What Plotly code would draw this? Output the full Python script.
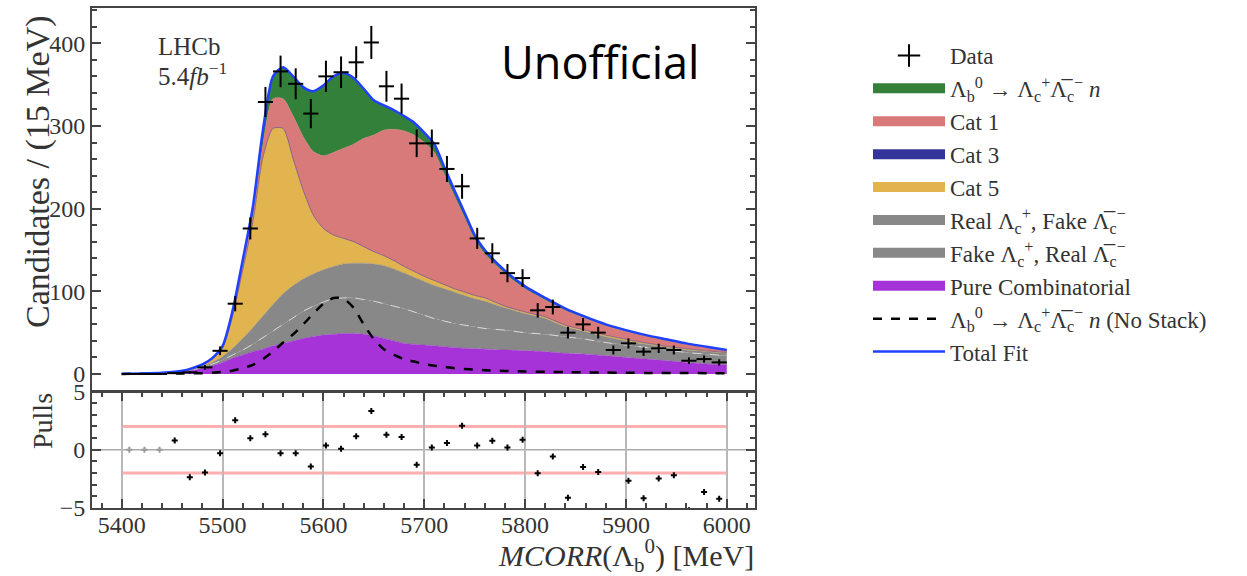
import numpy as np
import plotly.graph_objects as go

# ---------------- data ----------------
bin_centers = [5407.5, 5422.5, 5437.5, 5452.5, 5467.5, 5482.5, 5497.5, 5512.5, 5527.5, 5542.5,
               5557.5, 5572.5, 5587.5, 5602.5, 5617.5, 5632.5, 5647.5, 5662.5, 5677.5, 5692.5,
               5707.5, 5722.5, 5737.5, 5752.5, 5767.5, 5782.5, 5797.5, 5812.5, 5827.5, 5842.5,
               5857.5, 5872.5, 5887.5, 5902.5, 5917.5, 5932.5, 5947.5, 5962.5, 5977.5, 5992.5]
data_counts = [0, 0, 0, 1, 2, 8, 28, 85, 176, 329,
               366, 351, 315, 360, 365, 377, 401, 348, 333, 279,
               279, 248, 227, 164, 146, 122, 116, 77, 81, 50,
               60, 50, 29, 37, 27, 31, 29, 16, 18, 14]
pulls = [0, 0, 0, 0.8, -2.36, -1.95, -0.29, 2.53, 0.98, 1.32,
         -0.29, -0.29, -1.44, 0.37, 0.09, 1.15, 3.33, 1.29, 1.09, -1.29,
         0.2, 0.57, 2.07, 0.37, 0.78, 0.2, 0.86, -2.01, -0.57, -4.11,
         -1.49, -1.92, -5.3, -2.67, -4.17, -2.47, -2.18, -5.2, -3.62, -4.2]

x_fit = [5400, 5420, 5440, 5460, 5470, 5480, 5490, 5500, 5510, 5520, 5530, 5540, 5550, 5560,
         5570, 5580, 5590, 5600, 5610, 5620, 5630, 5640, 5650, 5660, 5670, 5680, 5690, 5700,
         5710, 5720, 5730, 5740, 5750, 5760, 5780, 5800, 5820, 5840, 5860, 5880, 5900, 5920,
         5940, 5960, 5980, 6000]
comb = [0.1, 0.3, 0.8, 2.5, 4.5, 7, 10, 14, 19, 23, 27, 30, 34, 37,
        40, 43, 45, 47, 48, 49, 49, 48, 46, 43, 40, 37, 36, 35,
        34, 33, 32, 31, 30.5, 30, 29, 28, 27, 25, 24, 22, 20, 18,
        16, 14, 12, 11]
fake_real = [0.05, 0.05, 0.1, 0.3, 0.5, 1, 2, 3, 4, 6, 9, 14, 18, 23,
             28, 33, 37, 40, 43, 43, 43, 42, 42, 42, 42, 42, 39, 36,
             33, 31, 29, 28, 26.5, 25, 24, 22, 21, 20, 18, 16, 15, 14,
             13, 12, 12, 11]
real_fake = [0.05, 0.05, 0.1, 0.2, 0.5, 1, 2, 4, 8, 14, 20, 26, 32, 37,
             39, 39, 39, 39, 39, 41, 42, 44, 45, 46, 45, 43, 42, 41,
             40, 39, 38, 36, 34, 33, 27, 23, 19, 12, 9, 7, 5, 4,
             3, 3, 3, 3]
cat5 = [0.05, 0.05, 0.1, 0.2, 0.5, 1.5, 4, 10, 39, 83, 128, 192, 213, 200,
        153, 107, 71, 50, 38, 31, 26, 20, 15, 12, 10, 8, 7, 6,
        6, 5, 4, 4, 4, 4, 2, 2, 2, 2, 2, 2, 2, 1.5,
        1.5, 1.5, 1, 1]
cat3 = [0, 0, 0, 0, 0, 0, 0, 0, 0, 0, 0, 0, 0, 0,
        0, 0, 0, 0, 0, 0, 0, 0, 0, 0, 0, 0, 0, 0,
        0, 0, 0, 0, 0, 0, 0, 0, 0, 0, 0, 0, 0, 0,
        0, 0, 0, 0]
cat1 = [0, 0, 0, 0, 0.2, 0, 0, 0.5, 3, 5, 7, 15, 36, 36,
        52, 65, 77, 88, 100, 109, 118, 131, 141, 152, 159, 164, 165, 162,
        155, 133.5, 112, 90, 67.8, 53.4, 39.3, 28, 20.4, 17.8, 14.1, 11.3, 9.5, 8.2,
        7.3, 5.4, 4, 2]
sig = [0.1, 0.2, 0.4, 0.6, 0.8, 1.0, 1.5, 2.5, 4, 7, 11, 18, 27, 38,
       48, 60, 73, 85, 92, 91, 80, 60, 42, 30, 23, 18, 15, 12,
       10, 8.5, 7, 6, 5.2, 4.6, 3.7, 3, 2.6, 2.2, 1.9, 1.7, 1.5, 1.3,
       1.2, 1.1, 1, 1]

# ---------------- geometry ----------------
W, H = 1247, 576
xl, xr = 92, 755
main_top, main_bot = 8, 391
pull_top, pull_bot = 391.5, 508
XR = [5370.5, 6028]

SERIF = "Liberation Serif"
TXT = "#333333"

LB = "Λ<sub>b</sub><sup>0</sup>"
LCP = "Λ<sub>c</sub><sup>+</sup>"
LCB = "Λ\u0305<sub>c</sub><sup>−</sup>"

fig = go.Figure()

comps = [
    (comb, "Pure Combinatorial", "#a633d8", 8),
    (fake_real, f"Fake {LCP}, Real {LCB}", "#888888", 7),
    (real_fake, f"Real {LCP}, Fake {LCB}", "#888888", 6),
    (cat5, "Cat 5", "#e1b44f", 5),
    (cat3, "Cat 3", "#333399", 4),
    (cat1, "Cat 1", "#d87a7a", 3),
    (sig, f"{LB} → {LCP}{LCB} <i>n</i>", "#33803a", 2),
]
for vals, name, col, rank in comps:
    if vals is fake_real:
        line = dict(color="rgba(225,225,225,0.9)", width=1, dash="dash", shape="spline", smoothing=0.7)
    else:
        line = dict(color=col, width=0.5, shape="spline", smoothing=0.7)
    fig.add_trace(go.Scatter(x=x_fit, y=vals, mode="lines", stackgroup="fit", name=name,
                             fillcolor=col, line=line, showlegend=False, legendgroup=name,
                             xaxis="x", yaxis="y"))
    # legend swatch for this component (no data of its own)
    fig.add_trace(go.Scatter(x=[None], y=[None], mode="lines", name=name, legendgroup=name,
                             line=dict(color=col, width=18), legendrank=rank,
                             xaxis="x", yaxis="y"))

total = np.sum(np.array([comb, fake_real, real_fake, cat5, cat3, cat1, sig]), axis=0)

fig.add_trace(go.Scatter(x=x_fit, y=sig, mode="lines", name=f"{LB} → {LCP}{LCB} <i>n</i> (No Stack)",
                         line=dict(color="black", width=2.5, dash="dash", shape="spline", smoothing=0.7),
                         legendrank=9, xaxis="x", yaxis="y"))
fig.add_trace(go.Scatter(x=x_fit, y=total, mode="lines", name="Total Fit",
                         line=dict(color="#2040ff", width=2.5, shape="spline", smoothing=0.7),
                         legendrank=10, xaxis="x", yaxis="y"))

errs = np.sqrt(np.array(data_counts, dtype=float))
fig.add_trace(go.Scatter(x=bin_centers, y=data_counts, mode="markers", showlegend=False,
                         marker=dict(size=1, color="black"),
                         error_y=dict(type="data", array=errs, color="black", thickness=2, width=0),
                         error_x=dict(type="constant", value=7.5, color="black", thickness=2, width=0),
                         xaxis="x", yaxis="y"))
fig.add_trace(go.Scatter(x=[None], y=[None], mode="markers", name="Data", legendrank=1,
                         marker=dict(symbol="cross-thin", size=24, line=dict(color="black", width=2)),
                         xaxis="x", yaxis="y"))

# pulls
pcol = ["#999999"] * 3 + ["black"] * (len(pulls) - 3)
fig.add_trace(go.Scatter(x=bin_centers, y=pulls, mode="markers", showlegend=False,
                         marker=dict(symbol="cross", size=5, color=pcol),
                         xaxis="x2", yaxis="y2"))

axis_common = dict(showline=True, linecolor="#444444", linewidth=2, mirror="ticks",
                   tickfont=dict(family=SERIF, size=24, color=TXT), tickcolor="#444444")

fig.update_layout(
    width=W, height=H, margin=dict(l=0, r=0, t=0, b=0, autoexpand=False),
    paper_bgcolor="white", plot_bgcolor="white",
    showlegend=True,
    legend=dict(x=868 / W, y=1 - 34 / H, xanchor="left", yanchor="top",
                font=dict(family=SERIF, size=23, color=TXT), tracegroupgap=0, itemwidth=72,
                bgcolor="rgba(0,0,0,0)", traceorder="normal"),
    xaxis=dict(domain=[xl / W, xr / W], range=XR, showticklabels=False, ticks="",
               showline=True, linecolor="#444444", linewidth=2, mirror=True, showgrid=False,
               zeroline=False, anchor="y"),
    yaxis=dict(domain=[1 - main_bot / H, 1 - main_top / H], range=[-20.6, 442.7],
               tickvals=[0, 100, 200, 300, 400], ticks="inside", ticklen=9, tickwidth=1.5,
               minor=dict(ticks="inside", ticklen=5, dtick=20, tick0=0, tickcolor="#444444"),
               showgrid=False, zeroline=False, anchor="x", **axis_common),
    xaxis2=dict(domain=[xl / W, xr / W], range=XR, tickvals=[5400, 5500, 5600, 5700, 5800, 5900, 6000],
                ticks="inside", ticklen=9, tickwidth=1.5, ticklabelstandoff=-6,
                minor=dict(ticks="inside", ticklen=5, dtick=20, tick0=5400, tickcolor="#444444", showgrid=False),
                showgrid=True, gridcolor="#b8b8b8", gridwidth=1.5, zeroline=False, anchor="y2",
                **axis_common),
    yaxis2=dict(domain=[1 - pull_bot / H, 1 - pull_top / H], range=[-5, 5],
                tickvals=[-5, 0, 5], ticktext=["−5", "0", "5"], ticks="inside", ticklen=9, tickwidth=1.5,
                minor=dict(ticks="inside", ticklen=5, dtick=1, tick0=0, tickcolor="#444444"),
                showgrid=False, zeroline=False, anchor="x2", **axis_common),
    shapes=[
        dict(type="line", xref="x2 domain", yref="y2", x0=0, x1=1, y0=0, y1=0,
             line=dict(color="#aaaaaa", width=1.5), layer="below"),
        dict(type="line", xref="x2", yref="y2", x0=5400, x1=6000, y0=2, y1=2,
             line=dict(color="rgba(255,110,110,0.55)", width=3), layer="below"),
        dict(type="line", xref="x2", yref="y2", x0=5400, x1=6000, y0=-2, y1=-2,
             line=dict(color="rgba(255,110,110,0.55)", width=3), layer="below"),
    ],
    annotations=[
        dict(text="LHCb", xref="paper", yref="paper", x=156 / W, y=1 - 47 / H, xanchor="left",
             yanchor="middle", showarrow=False, font=dict(family=SERIF, size=25, color=TXT)),
        dict(text="5.4<i>fb</i><sup>−1</sup>", xref="paper", yref="paper", x=156 / W, y=1 - 74 / H,
             xanchor="left", yanchor="middle", showarrow=False, font=dict(family=SERIF, size=25, color=TXT)),
        dict(text="Unofficial", xref="paper", yref="paper", x=600 / W, y=1 - 62 / H, xanchor="center",
             yanchor="middle", showarrow=False, font=dict(family="Open Sans", size=45, color="black")),
        dict(text="Candidates / (15 MeV)", xref="paper", yref="paper", x=38 / W, y=1 - 172 / H,
             xanchor="center", yanchor="middle", textangle=-90, showarrow=False,
             font=dict(family=SERIF, size=34, color=TXT)),
        dict(text="Pulls", xref="paper", yref="paper", x=42 / W, y=1 - 421 / H,
             xanchor="center", yanchor="middle", textangle=-90, showarrow=False,
             font=dict(family=SERIF, size=28, color=TXT)),
        dict(text="<i>MCORR</i>(Λ<sub>b</sub><sup>0</sup>) [MeV]", xref="paper", yref="paper",
             x=756 / W, y=1 - 555 / H, xanchor="right", yanchor="middle", showarrow=False,
             font=dict(family=SERIF, size=30, color=TXT)),
    ],
)

fig.write_html("out.html")
